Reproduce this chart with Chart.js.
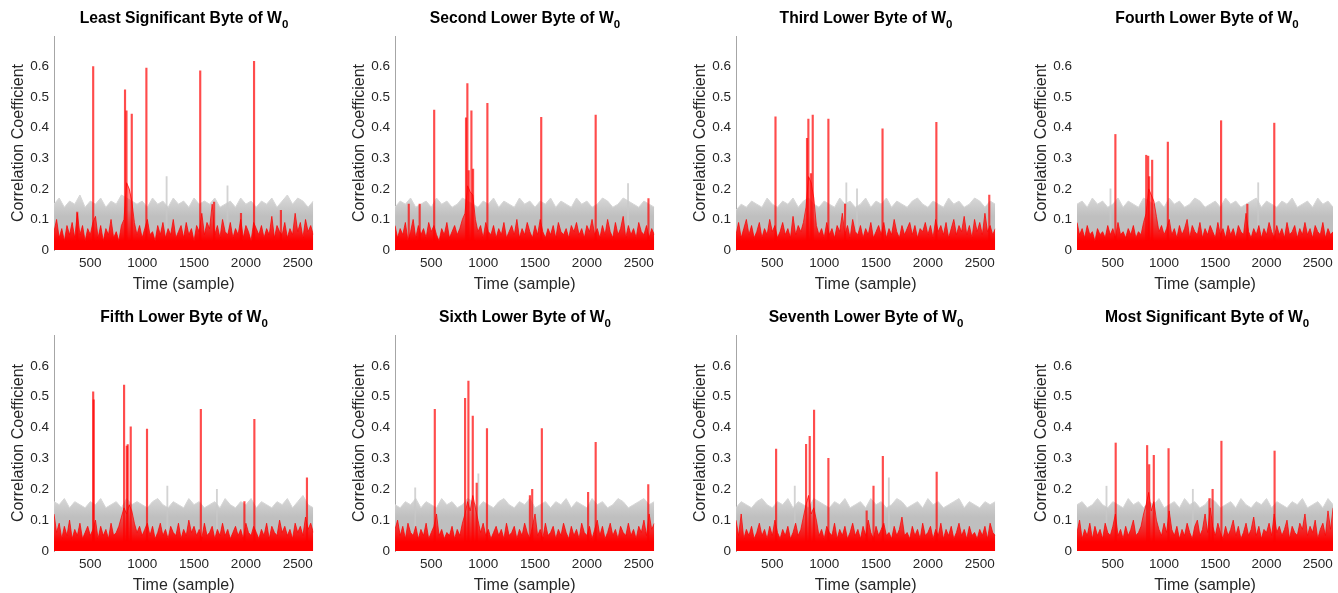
<!DOCTYPE html>
<html>
<head>
<meta charset="utf-8">
<script src="https://cdn.jsdelivr.net/npm/chart.js@4.4.1/dist/chart.umd.min.js"></script>
<style>
body{margin:0;width:1338px;height:593px;overflow:hidden;background:#fff;position:relative;font-family:"Liberation Sans",Arial,sans-serif}
canvas{position:absolute}
.ttl{position:absolute;width:260px;text-align:center;font-weight:bold;font-size:15.7px;color:#000;line-height:18px;white-space:nowrap}
.ttl sub{font-size:11.5px;vertical-align:-5px;line-height:0}
</style>
</head>
<body>
<script>
// sample range of every panel
const xStart=150
const xEnd=2650
const grayStep=50
const redStep=25

const xTicks=[500,1000,1500,2000,2500]
const yTicks=[0,0.1,0.2,0.3,0.4,0.5,0.6]

const titles=["Least Significant Byte of W","Second Lower Byte of W","Third Lower Byte of W","Fourth Lower Byte of W",
"Fifth Lower Byte of W","Sixth Lower Byte of W","Seventh Lower Byte of W","Most Significant Byte of W"]

// top of the grey band (wrong guesses), one value every 50 samples
const gray1=[0.15,0.17,0.14,0.16,0.15,0.18,0.14,0.16,0.15,0.17,
0.14,0.16,0.15,0.18,0.17,0.16,0.15,0.16,0.14,0.17,
0.15,0.16,0.14,0.17,0.15,0.16,0.14,0.17,0.15,0.16,
0.15,0.17,0.14,0.15,0.16,0.14,0.17,0.15,0.16,0.14,
0.16,0.15,0.17,0.14,0.16,0.18,0.15,0.17,0.16,0.14,0.16]
const gray2=[0.14,0.16,0.15,0.17,0.14,0.15,0.16,0.14,0.17,0.15,
0.16,0.14,0.15,0.17,0.16,0.15,0.14,0.16,0.15,0.17,
0.14,0.16,0.15,0.14,0.17,0.15,0.16,0.14,0.16,0.15,
0.17,0.14,0.16,0.15,0.14,0.17,0.15,0.16,0.14,0.15,
0.17,0.16,0.14,0.15,0.17,0.16,0.15,0.14,0.16,0.15,0.14]
const gray3=[0.13,0.15,0.14,0.16,0.15,0.14,0.17,0.15,0.14,0.16,
0.15,0.17,0.14,0.16,0.17,0.15,0.14,0.16,0.15,0.14,
0.17,0.15,0.16,0.14,0.15,0.17,0.14,0.16,0.15,0.17,
0.14,0.16,0.15,0.14,0.16,0.17,0.15,0.14,0.16,0.15,
0.14,0.17,0.15,0.16,0.14,0.15,0.17,0.16,0.14,0.16,0.15]
const gray4=[0.15,0.16,0.14,0.17,0.15,0.16,0.14,0.15,0.17,0.14,
0.16,0.15,0.14,0.17,0.16,0.15,0.16,0.14,0.17,0.15,
0.16,0.14,0.15,0.17,0.16,0.14,0.15,0.16,0.14,0.17,
0.15,0.16,0.14,0.15,0.16,0.17,0.14,0.16,0.15,0.14,
0.16,0.15,0.17,0.14,0.15,0.16,0.14,0.17,0.15,0.16,0.14]
const gray5=[0.16,0.15,0.17,0.14,0.16,0.15,0.14,0.16,0.15,0.17,
0.14,0.15,0.16,0.14,0.17,0.15,0.16,0.15,0.14,0.16,
0.17,0.15,0.14,0.16,0.15,0.14,0.17,0.15,0.16,0.14,
0.15,0.16,0.14,0.17,0.15,0.14,0.16,0.15,0.17,0.14,
0.16,0.15,0.14,0.16,0.15,0.17,0.14,0.16,0.18,0.15,0.14]
const gray6=[0.15,0.14,0.16,0.15,0.17,0.14,0.16,0.15,0.14,0.17,
0.15,0.16,0.14,0.15,0.17,0.16,0.14,0.16,0.15,0.14,
0.16,0.17,0.15,0.14,0.16,0.15,0.17,0.14,0.15,0.16,
0.14,0.16,0.15,0.17,0.14,0.16,0.15,0.14,0.17,0.15,
0.16,0.14,0.15,0.17,0.16,0.14,0.15,0.16,0.17,0.15,0.16]
const gray7=[0.14,0.16,0.15,0.14,0.16,0.17,0.15,0.14,0.16,0.15,
0.17,0.14,0.16,0.15,0.14,0.17,0.16,0.15,0.14,0.16,
0.15,0.17,0.14,0.15,0.16,0.14,0.17,0.15,0.16,0.14,
0.15,0.17,0.16,0.14,0.15,0.16,0.14,0.17,0.15,0.16,
0.14,0.15,0.16,0.17,0.14,0.16,0.15,0.14,0.16,0.15,0.16]
const gray8=[0.15,0.16,0.14,0.15,0.17,0.15,0.14,0.16,0.15,0.14,
0.17,0.15,0.16,0.14,0.16,0.15,0.17,0.14,0.15,0.16,
0.14,0.17,0.15,0.16,0.14,0.15,0.17,0.16,0.14,0.15,
0.16,0.14,0.17,0.15,0.14,0.16,0.15,0.17,0.14,0.16,
0.15,0.14,0.16,0.15,0.17,0.14,0.15,0.16,0.14,0.17,0.15]

// correct key trace (red), one value every 25 samples
const red1=[0.06,0.10,0.04,0.07,0.03,0.08,0.05,0.09,0.04,0.12,
0.05,0.08,0.03,0.07,0.05,0.09,0.11,0.04,0.08,0.03,
0.07,0.05,0.10,0.04,0.06,0.03,0.08,0.10,0.22,0.20,
0.16,0.09,0.05,0.08,0.04,0.07,0.10,0.05,0.06,0.03,
0.08,0.05,0.09,0.04,0.07,0.05,0.10,0.04,0.06,0.08,
0.04,0.09,0.05,0.07,0.03,0.08,0.06,0.12,0.05,0.09,
0.07,0.15,0.05,0.08,0.04,0.10,0.06,0.05,0.09,0.04,
0.07,0.05,0.10,0.04,0.08,0.06,0.03,0.09,0.07,0.05,
0.08,0.04,0.07,0.05,0.11,0.04,0.08,0.06,0.05,0.09,
0.04,0.07,0.05,0.12,0.06,0.09,0.04,0.10,0.06,0.08,0.05]
const red2=[0.08,0.04,0.07,0.05,0.09,0.03,0.06,0.10,0.04,0.08,
0.05,0.07,0.04,0.09,0.06,0.08,0.05,0.03,0.07,0.05,
0.09,0.04,0.06,0.08,0.05,0.07,0.10,0.12,0.21,0.19,
0.18,0.10,0.06,0.08,0.04,0.09,0.06,0.05,0.08,0.04,
0.07,0.05,0.09,0.04,0.06,0.08,0.05,0.10,0.04,0.07,
0.05,0.09,0.06,0.04,0.08,0.05,0.10,0.06,0.04,0.07,
0.05,0.08,0.04,0.09,0.06,0.05,0.07,0.04,0.08,0.06,
0.09,0.05,0.07,0.04,0.08,0.06,0.10,0.05,0.07,0.04,
0.08,0.05,0.10,0.06,0.04,0.09,0.05,0.07,0.11,0.04,
0.08,0.05,0.07,0.04,0.09,0.06,0.05,0.08,0.04,0.07,0.05]
const red3=[0.05,0.09,0.04,0.07,0.10,0.05,0.08,0.04,0.06,0.09,
0.04,0.07,0.05,0.10,0.06,0.08,0.04,0.06,0.09,0.05,
0.07,0.04,0.11,0.05,0.08,0.06,0.09,0.14,0.24,0.22,
0.17,0.08,0.05,0.07,0.04,0.09,0.05,0.07,0.04,0.08,
0.06,0.12,0.05,0.08,0.04,0.10,0.06,0.05,0.08,0.04,
0.07,0.05,0.09,0.04,0.06,0.08,0.05,0.09,0.04,0.07,
0.05,0.10,0.06,0.04,0.08,0.05,0.07,0.09,0.05,0.08,
0.04,0.07,0.06,0.09,0.05,0.08,0.04,0.10,0.06,0.08,
0.05,0.09,0.04,0.07,0.10,0.05,0.08,0.06,0.11,0.05,
0.08,0.04,0.10,0.06,0.09,0.05,0.12,0.06,0.08,0.05,0.07]
const red4=[0.09,0.05,0.07,0.04,0.08,0.05,0.06,0.03,0.07,0.05,
0.06,0.04,0.08,0.05,0.07,0.04,0.09,0.05,0.06,0.04,
0.07,0.05,0.08,0.04,0.06,0.05,0.09,0.12,0.20,0.18,
0.16,0.11,0.06,0.08,0.05,0.07,0.10,0.05,0.07,0.04,
0.08,0.05,0.07,0.10,0.04,0.08,0.06,0.05,0.09,0.04,
0.07,0.05,0.08,0.06,0.04,0.09,0.05,0.07,0.04,0.08,
0.05,0.07,0.04,0.08,0.06,0.05,0.12,0.06,0.04,0.07,
0.05,0.08,0.04,0.07,0.05,0.09,0.06,0.04,0.08,0.05,
0.07,0.04,0.09,0.05,0.06,0.08,0.04,0.07,0.05,0.09,
0.05,0.07,0.04,0.08,0.06,0.05,0.09,0.04,0.07,0.05,0.06]
const red5=[0.12,0.06,0.09,0.04,0.08,0.05,0.10,0.04,0.07,0.05,
0.09,0.04,0.06,0.08,0.05,0.07,0.10,0.04,0.08,0.05,
0.07,0.04,0.09,0.05,0.06,0.08,0.11,0.14,0.12,0.15,
0.13,0.09,0.06,0.08,0.05,0.07,0.09,0.05,0.08,0.04,
0.06,0.09,0.05,0.07,0.04,0.08,0.06,0.05,0.09,0.04,
0.07,0.05,0.10,0.06,0.08,0.05,0.07,0.04,0.09,0.05,
0.06,0.08,0.04,0.07,0.05,0.09,0.05,0.07,0.04,0.06,
0.08,0.05,0.07,0.04,0.09,0.06,0.05,0.08,0.06,0.04,
0.07,0.05,0.09,0.04,0.08,0.06,0.05,0.10,0.06,0.08,
0.05,0.07,0.04,0.09,0.06,0.08,0.05,0.11,0.07,0.09,0.06]
const red6=[0.07,0.10,0.05,0.08,0.04,0.09,0.06,0.05,0.08,0.04,
0.07,0.05,0.09,0.04,0.06,0.08,0.12,0.05,0.07,0.04,
0.06,0.05,0.08,0.04,0.07,0.05,0.09,0.12,0.16,0.13,
0.18,0.14,0.10,0.06,0.09,0.05,0.07,0.04,0.06,0.08,
0.05,0.07,0.04,0.09,0.05,0.06,0.08,0.04,0.07,0.05,
0.09,0.06,0.04,0.08,0.12,0.05,0.07,0.04,0.09,0.05,
0.06,0.08,0.04,0.07,0.05,0.09,0.06,0.04,0.08,0.05,
0.07,0.04,0.09,0.06,0.05,0.08,0.04,0.07,0.10,0.05,
0.08,0.04,0.06,0.09,0.05,0.07,0.04,0.08,0.06,0.05,
0.09,0.05,0.07,0.04,0.08,0.06,0.10,0.05,0.12,0.07,0.09]
const red7=[0.10,0.05,0.12,0.04,0.07,0.05,0.08,0.04,0.06,0.09,
0.05,0.07,0.04,0.08,0.05,0.10,0.06,0.04,0.07,0.05,
0.08,0.04,0.06,0.09,0.05,0.07,0.11,0.15,0.18,0.12,
0.14,0.10,0.05,0.07,0.04,0.08,0.06,0.05,0.09,0.04,
0.07,0.05,0.08,0.04,0.06,0.09,0.05,0.07,0.04,0.08,
0.05,0.10,0.06,0.04,0.08,0.05,0.07,0.09,0.05,0.06,
0.04,0.08,0.05,0.07,0.11,0.05,0.06,0.04,0.08,0.05,
0.07,0.04,0.09,0.05,0.06,0.08,0.04,0.07,0.05,0.09,
0.04,0.07,0.05,0.08,0.04,0.06,0.09,0.05,0.07,0.04,
0.08,0.05,0.06,0.04,0.07,0.05,0.08,0.04,0.09,0.06,0.05]
const red8=[0.06,0.10,0.04,0.07,0.05,0.09,0.04,0.08,0.05,0.07,
0.04,0.09,0.06,0.05,0.08,0.12,0.05,0.07,0.04,0.08,
0.05,0.07,0.10,0.05,0.06,0.08,0.12,0.15,0.19,0.13,
0.16,0.10,0.07,0.05,0.09,0.06,0.13,0.07,0.05,0.08,
0.04,0.07,0.05,0.09,0.06,0.04,0.08,0.10,0.05,0.07,
0.12,0.06,0.14,0.08,0.05,0.09,0.06,0.04,0.08,0.05,
0.07,0.10,0.05,0.08,0.04,0.06,0.09,0.05,0.07,0.11,
0.05,0.08,0.04,0.07,0.06,0.09,0.05,0.12,0.06,0.08,
0.05,0.07,0.10,0.04,0.08,0.06,0.05,0.09,0.07,0.12,
0.05,0.08,0.06,0.10,0.04,0.07,0.09,0.05,0.13,0.07,0.14]

// single-sample peaks of the red trace: [sample, coefficient]
const spikes1=[[535,0.60],[842,0.524],[856,0.455],[907,0.445],[1048,0.595],[1567,0.586],[2086,0.617],
[381,0.124],[1701,0.157],[1960,0.12],[2345,0.13]]
const spikes2=[[535,0.458],[842,0.432],[855,0.544],[868,0.26],[894,0.455],[910,0.265],[1048,0.48],[1567,0.434],[2092,0.441],[2601,0.168],
[290,0.15],[395,0.15]]
const spikes3=[[538,0.436],[842,0.365],[855,0.428],[880,0.25],[897,0.441],[1048,0.428],[1570,0.396],[2089,0.418],[2599,0.18],
[1209,0.15]]
const spikes4=[[532,0.378],[833,0.31],[852,0.307],[862,0.24],[891,0.294],[1044,0.353],[1564,0.423],[2083,0.415],
[1820,0.15]]
const spikes5=[[535,0.516],[540,0.49],[833,0.538],[859,0.34],[868,0.345],[897,0.402],[1054,0.395],[1573,0.459],[2089,0.427],[2596,0.237],[1993,0.16]]
const spikes6=[[541,0.459],[833,0.495],[865,0.551],[907,0.437],[945,0.22],[1044,0.397],[1458,0.18],[1480,0.20],[1573,0.397],[2019,0.19],[2092,0.352],[2599,0.215]]
const spikes7=[[544,0.33],[833,0.346],[868,0.372],[910,0.457],[1048,0.30],[1483,0.21],[1573,0.307],[2092,0.256],[1417,0.13]]
const spikes8=[[535,0.35],[842,0.342],[862,0.28],[907,0.31],[1051,0.332],[1450,0.17],[1481,0.20],[1567,0.356],[2086,0.324]]

// faint grey peaks above the band
const grayPeaks1=[[1230,0.24],[1817,0.21]]
const grayPeaks2=[[2391,0.217]]
const grayPeaks3=[[1208,0.22],[1311,0.20]]
const grayPeaks4=[[471,0.20],[1913,0.22]]
const grayPeaks5=[[1237,0.21],[1715,0.20]]
const grayPeaks6=[[339,0.205],[948,0.25]]
const grayPeaks7=[[711,0.21],[1618,0.237]]
const grayPeaks8=[[432,0.21],[1275,0.20]]

const panels=[
{gray:gray1,red:red1,spikes:spikes1,grayPeaks:grayPeaks1},
{gray:gray2,red:red2,spikes:spikes2,grayPeaks:grayPeaks2},
{gray:gray3,red:red3,spikes:spikes3,grayPeaks:grayPeaks3},
{gray:gray4,red:red4,spikes:spikes4,grayPeaks:grayPeaks4},
{gray:gray5,red:red5,spikes:spikes5,grayPeaks:grayPeaks5},
{gray:gray6,red:red6,spikes:spikes6,grayPeaks:grayPeaks6},
{gray:gray7,red:red7,spikes:spikes7,grayPeaks:grayPeaks7},
{gray:gray8,red:red8,spikes:spikes8,grayPeaks:grayPeaks8}
]

const family='"Liberation Sans", Arial, sans-serif'
const txt='#262626'

// vertical gradients so the dense part is solid and the tops fade out
function grayFill(c){
const ch=c.chart
if(!ch.chartArea) return '#c0c0c0'
const y=ch.scales.y
const g=ch.ctx.createLinearGradient(0,y.getPixelForValue(0.11),0,y.getPixelForValue(0.18))
g.addColorStop(0,'#bfbfbf')
g.addColorStop(1,'#dadada')
return g
}

function redFill(c){
const ch=c.chart
if(!ch.chartArea) return '#ff0000'
const y=ch.scales.y
const g=ch.ctx.createLinearGradient(0,y.getPixelForValue(0.03),0,y.getPixelForValue(0.13))
g.addColorStop(0,'rgba(255,0,0,1)')
g.addColorStop(1,'rgba(255,0,0,0.45)')
return g
}

panels.forEach((p,k)=>{

const col=k%4
const row=Math.floor(k/4)
const left=341*col
const top=row?299:0

const cv=document.createElement('canvas')
cv.width=col==3?315:318
cv.height=row?296:294
cv.style.left=left+'px'
cv.style.top=top+'px'
document.body.appendChild(cv)

const t=document.createElement('div')
t.className='ttl'
t.style.left=(left+54)+'px'
t.style.top=(top+9)+'px'
t.innerHTML=titles[k]+'<sub>0</sub>'
document.body.appendChild(t)

new Chart(cv,{
type:'line',
data:{datasets:[
{type:'bar',data:p.spikes.map(s=>({x:s[0],y:s[1]})),backgroundColor:'rgba(255,0,0,0.7)',barThickness:1.5},
{data:p.red.map((v,i)=>({x:xStart+i*redStep,y:v})),borderColor:'rgba(255,0,0,0.75)',borderWidth:1,backgroundColor:redFill,fill:'origin',pointRadius:0,tension:0},
{type:'bar',data:p.grayPeaks.map(s=>({x:s[0],y:s[1]})),backgroundColor:'rgba(200,200,200,0.8)',barThickness:1.2},
{data:p.gray.map((v,i)=>({x:xStart+i*grayStep,y:v})),borderColor:'#d6d6d6',borderWidth:1,backgroundColor:grayFill,fill:'origin',pointRadius:0,tension:0}
]},
options:{
responsive:false,
animation:false,
devicePixelRatio:1,
layout:{padding:{top:36,right:4,left:0,bottom:0}},
plugins:{legend:{display:false},tooltip:{enabled:false}},
scales:{
x:{
type:'linear',min:xStart,max:xEnd,offset:false,
grid:{display:false,drawTicks:false},
border:{display:false},
afterBuildTicks:s=>{s.ticks=xTicks.map(v=>({value:v}))},
afterFit:s=>{s.height=44},
ticks:{padding:5,autoSkip:false,maxRotation:0,color:txt,font:{family:family,size:13.5},callback:v=>String(v)},
title:{display:true,text:'Time (sample)',color:txt,font:{family:family,size:16},padding:{top:0,bottom:0}}
},
y:{
min:0,max:0.7,
grid:{display:false,drawTicks:false},
border:{display:col<3,color:'#a6a6a6'},
afterBuildTicks:s=>{s.ticks=yTicks.map(v=>({value:v}))},
afterFit:s=>{s.width=54},
ticks:{padding:5,color:txt,font:{family:family,size:13.5},callback:v=>String(v)},
title:{display:true,text:'Correlation Coefficient',color:txt,font:{family:family,size:16},padding:{top:8.5,bottom:0}}
}
}
}
})

})
</script>
</body>
</html>
